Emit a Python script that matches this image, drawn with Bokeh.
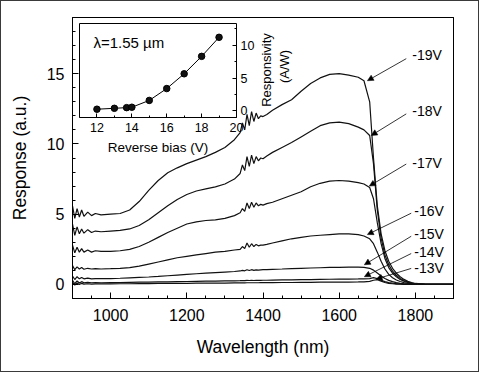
from bokeh.plotting import figure
from bokeh.models import Range1d, LinearAxis, SingleIntervalTicker, FixedTicker, Label, Arrow, NormalHead
from bokeh.embed import file_html
from bokeh.resources import INLINE

FONT = "Liberation Sans"

# ---------------- data ----------------
wavelength = [900, 906, 912, 918, 924, 930, 940, 950, 960, 975,
              1000, 1025, 1050, 1075, 1100, 1125, 1150, 1175, 1200, 1225, 1250, 1275, 1300, 1325,
              1340, 1346, 1352, 1358, 1364, 1370, 1376, 1382, 1388, 1394, 1400,
              1410, 1425, 1450, 1475, 1500, 1525, 1550, 1575, 1600, 1625, 1650,
              1665, 1680, 1690, 1700, 1710, 1720, 1730, 1740, 1750, 1760, 1770, 1780, 1790, 1800,
              1825, 1850, 1900]

resp_19v = [5.6, 4.7, 5.4, 4.8, 5.3, 4.85, 5.15, 4.9, 5.05, 4.95,
            5.0, 5.05, 5.3, 5.9, 6.7, 7.4, 7.95, 8.3, 8.6, 8.85, 9.1, 9.4, 9.75, 10.3,
            10.8, 11.5, 11.0, 12.1, 11.3, 12.3, 11.6, 12.2, 11.8, 12.0, 11.95,
            12.1, 12.4, 12.8, 13.15, 13.75, 14.3, 14.7, 14.95, 15.0, 14.9, 14.75,
            14.5, 13.0, 9.0, 5.6, 3.6, 2.4, 1.65, 1.15, 0.8, 0.55, 0.36, 0.22, 0.13, 0.07,
            0.02, 0.0, 0.0]
resp_18v = [4.3, 3.5, 4.1, 3.6, 3.95, 3.65, 3.9, 3.7, 3.8, 3.75,
            3.8, 3.85, 3.95, 4.2, 4.6, 5.1, 5.6, 6.05, 6.4, 6.65, 6.8, 6.95, 7.15, 7.5,
            7.9, 8.5, 8.1, 9.1, 8.4, 9.2, 8.6, 9.1, 8.8, 9.0, 8.95,
            9.15, 9.4, 9.75, 10.1, 10.5, 10.9, 11.3, 11.5, 11.55, 11.45, 11.2,
            11.0, 10.6, 8.6, 5.3, 3.3, 2.1, 1.4, 0.95, 0.65, 0.43, 0.28, 0.17, 0.1, 0.05,
            0.015, 0.0, 0.0]
resp_17v = [2.8, 2.25, 2.65, 2.3, 2.55, 2.3, 2.45, 2.3, 2.4, 2.35,
            2.35, 2.4, 2.5, 2.7, 3.0, 3.35, 3.7, 4.0, 4.3, 4.45, 4.55, 4.6, 4.7, 4.9,
            5.1, 5.4, 5.2, 5.8, 5.4, 5.85, 5.5, 5.8, 5.6, 5.7, 5.65,
            5.75, 5.85, 6.1, 6.35, 6.6, 6.95, 7.2, 7.35, 7.4, 7.35, 7.25,
            7.15, 6.9, 6.1, 4.4, 2.9, 1.85, 1.2, 0.8, 0.55, 0.36, 0.23, 0.14, 0.08, 0.04,
            0.01, 0.0, 0.0]
resp_16v = [1.35, 1.05, 1.25, 1.1, 1.2, 1.08, 1.15, 1.1, 1.12, 1.1,
            1.12, 1.15, 1.2, 1.3, 1.45, 1.6, 1.75, 1.9, 2.0, 2.1, 2.2, 2.3, 2.35, 2.45,
            2.5, 2.7, 2.55, 2.95, 2.65, 2.9, 2.7, 2.85, 2.75, 2.8, 2.8,
            2.85, 2.95, 3.1, 3.25, 3.35, 3.45, 3.5, 3.55, 3.6, 3.6, 3.55,
            3.45, 3.25, 2.9, 2.3, 1.65, 1.1, 0.72, 0.48, 0.32, 0.21, 0.13, 0.08, 0.05, 0.03,
            0.01, 0.0, 0.0]
resp_15v = [0.6, 0.35, 0.55, 0.4, 0.5, 0.4, 0.45, 0.4, 0.42, 0.41,
            0.42, 0.44, 0.47, 0.5, 0.53, 0.57, 0.62, 0.67, 0.72, 0.76, 0.8, 0.84, 0.88, 0.92,
            0.96, 1.0, 0.97, 1.05, 0.99, 1.05, 1.0, 1.04, 1.02, 1.04, 1.05,
            1.06, 1.08, 1.1, 1.13, 1.15, 1.17, 1.19, 1.21, 1.22, 1.23, 1.23,
            1.22, 1.15, 1.02, 0.82, 0.6, 0.42, 0.29, 0.2, 0.13, 0.08, 0.05, 0.03, 0.02, 0.01,
            0.0, 0.0, 0.0]
resp_14v = [0.3, 0.05, 0.25, 0.1, 0.2, 0.12, 0.15, 0.12, 0.13, 0.12,
            0.13, 0.14, 0.15, 0.16, 0.17, 0.18, 0.19, 0.2, 0.21, 0.22, 0.23, 0.24, 0.25, 0.26,
            0.27, 0.28, 0.27, 0.29, 0.28, 0.29, 0.28, 0.29, 0.29, 0.29, 0.3,
            0.3, 0.31, 0.32, 0.33, 0.34, 0.35, 0.36, 0.37, 0.38, 0.38, 0.39,
            0.4, 0.42, 0.48, 0.42, 0.3, 0.2, 0.13, 0.09, 0.06, 0.04, 0.03, 0.02, 0.01, 0.01,
            0.0, 0.0, 0.0]
resp_13v = [0.15, -0.05, 0.1, 0.0, 0.08, 0.02, 0.05, 0.03, 0.04, 0.04,
            0.04, 0.05, 0.05, 0.06, 0.06, 0.07, 0.07, 0.08, 0.08, 0.09, 0.09, 0.1, 0.1, 0.11,
            0.11, 0.12, 0.11, 0.12, 0.12, 0.12, 0.12, 0.12, 0.12, 0.13, 0.13,
            0.13, 0.13, 0.14, 0.14, 0.15, 0.15, 0.16, 0.16, 0.17, 0.17, 0.18,
            0.19, 0.22, 0.3, 0.34, 0.24, 0.14, 0.08, 0.05, 0.03, 0.02, 0.01, 0.01, 0.0, 0.0,
            0.0, 0.0, 0.0]

series = [resp_13v, resp_14v, resp_15v, resp_16v, resp_17v, resp_18v, resp_19v]
series_labels = ["-13V", "-14V", "-15V", "-16V", "-17V", "-18V", "-19V"]

# inset: responsivity at 1.55 um vs reverse bias
bias_v = [12, 13, 13.7, 14, 15, 16, 17, 18, 19]
responsivity = [0.26, 0.4, 0.5, 0.56, 1.6, 3.4, 5.65, 8.3, 11.2]

# annotation placement (data units of the main plot)
label_x = [1797, 1797, 1797, 1797, 1792, 1792, 1792]
label_y = [1.14, 2.29, 3.57, 5.2, 8.64, 12.36, 16.3]
arrow_tail = [(1789, 1.14), (1789, 2.2), (1789, 3.43), (1789, 5.07),
              (1776, 8.57), (1776, 12.14), (1776, 16.07)]
arrow_tip = [(1697, 0.38), (1666, 0.55), (1666, 1.4), (1674, 3.55),
             (1679, 7.0), (1684, 10.6), (1674, 14.5)]

# ---------------- geometry ----------------
FRAME_W, FRAME_H = 381, 281
X_RANGE = (900, 1900)
Y_RANGE = (-1, 19)
INSET_X = (11, 20)
INSET_Y = (-1, 13.3)
INSET_LEFT, INSET_RIGHT, INSET_TOP, INSET_BOTTOM = 7, 164, 6, 100  # px inside frame

sx = (INSET_RIGHT - INSET_LEFT) / (INSET_X[1] - INSET_X[0])
sy = (INSET_BOTTOM - INSET_TOP) / (INSET_Y[1] - INSET_Y[0])
ix_range = Range1d(INSET_X[0] - INSET_LEFT / sx, INSET_X[1] + (FRAME_W - INSET_RIGHT) / sx)
iy_range = Range1d(INSET_Y[0] - (FRAME_H - INSET_BOTTOM) / sy, INSET_Y[1] + INSET_TOP / sy)

p = figure(frame_width=FRAME_W, frame_height=FRAME_H,
           x_range=Range1d(*X_RANGE), y_range=Range1d(*Y_RANGE),
           output_backend="svg", toolbar_location=None,
           min_border_left=71, min_border_right=25, min_border_top=16, min_border_bottom=73)
p.styles = {"border": "1px solid #3a3a3a"}
p.extra_x_ranges = {"ix": ix_range}
p.extra_y_ranges = {"iy": iy_range}

p.xgrid.visible = False
p.ygrid.visible = False
p.outline_line_color = "black"
p.outline_line_alpha = 1
p.outline_line_width = 1
p.background_fill_color = "white"
p.border_fill_color = "white"

xa = p.xaxis[0]
ya = p.yaxis[0]
xa.ticker = SingleIntervalTicker(interval=200, num_minor_ticks=4)
ya.ticker = SingleIntervalTicker(interval=5, num_minor_ticks=5)
xa.axis_label = "Wavelength (nm)"
ya.axis_label = "Response (a.u.)"
for ax in (xa, ya):
    ax.major_tick_in = 6
    ax.major_tick_out = 0
    ax.minor_tick_in = 3
    ax.minor_tick_out = 0
    ax.axis_line_color = "black"
    ax.major_tick_line_color = "black"
    ax.minor_tick_line_color = "black"
    ax.major_tick_line_width = 1
    ax.minor_tick_line_width = 1
    ax.major_label_text_font = FONT
    ax.major_label_text_font_size = "16px"
    ax.major_label_text_color = "black"
    ax.axis_label_text_font = FONT
    ax.axis_label_text_font_size = "17.5px"
    ax.axis_label_text_font_style = "normal"
    ax.axis_label_text_color = "black"
xa.major_label_standoff = 10
xa.axis_label_standoff = 13
ya.major_label_standoff = 8
ya.axis_label_standoff = 14

# plain frame edges on top and right (no ticks, no labels)
for side in ("above", "right"):
    edge = LinearAxis(ticker=FixedTicker(ticks=[]), axis_line_color="black",
                      major_tick_line_color=None, minor_tick_line_color=None,
                      major_label_standoff=0)
    p.add_layout(edge, side)

for ys in series:
    p.line(wavelength, ys, line_color="#111111", line_width=1.2)

for t, lx, ly, (x0, y0), (x1, y1) in zip(series_labels, label_x, label_y, arrow_tail, arrow_tip):
    p.add_layout(Arrow(end=NormalHead(size=6, line_color="black", fill_color="black", line_width=0.5),
                       x_start=x0, y_start=y0, x_end=x1, y_end=y1,
                       line_color="black", line_width=0.8))
    p.add_layout(Label(x=lx, y=ly, text=t, text_align="left", text_baseline="middle",
                       text_font=FONT, text_font_size="14px", text_color="black"))

# ---------------- inset ----------------
p.quad(left=INSET_X[0], right=INSET_X[1], bottom=INSET_Y[0], top=INSET_Y[1],
       x_range_name="ix", y_range_name="iy",
       fill_color="white", line_color="black", line_width=1)
p.line(bias_v, responsivity, x_range_name="ix", y_range_name="iy",
       line_color="black", line_width=1)
p.scatter(bias_v, responsivity, x_range_name="ix", y_range_name="iy",
          size=6.5, fill_color="#111111", line_color="black")

iax = LinearAxis(x_range_name="ix", y_range_name="iy", fixed_location=INSET_Y[0],
                 bounds=INSET_X, ticker=SingleIntervalTicker(interval=2, num_minor_ticks=2),
                 axis_label="Reverse bias (V)")
iay = LinearAxis(x_range_name="ix", y_range_name="iy", fixed_location=INSET_X[1],
                 bounds=INSET_Y, ticker=SingleIntervalTicker(interval=5, num_minor_ticks=2))
for ax in (iax, iay):
    ax.axis_line_color = None
    ax.major_tick_in = 4
    ax.major_tick_out = 0
    ax.minor_tick_in = 2
    ax.minor_tick_out = 0
    ax.major_tick_line_color = "black"
    ax.minor_tick_line_color = "black"
    ax.major_label_text_font = FONT
    ax.major_label_text_font_size = "12.5px"
    ax.major_label_text_color = "black"
    ax.major_label_standoff = 5
    ax.axis_label_text_font = FONT
    ax.axis_label_text_font_size = "13.5px"
    ax.axis_label_text_font_style = "normal"
    ax.axis_label_text_color = "black"
    ax.axis_label_standoff = 5
iay.major_label_standoff = 4
p.add_layout(iax, "below")
p.add_layout(iay, "right")

p.add_layout(Label(x=21.72, y=6.23, x_range_name="ix", y_range_name="iy", text="Responsivity",
                   angle=90, angle_units="deg", text_align="center", text_baseline="middle",
                   text_font=FONT, text_font_size="13px", text_color="black"))
p.add_layout(Label(x=22.75, y=6.76, x_range_name="ix", y_range_name="iy", text="(A/W)",
                   angle=90, angle_units="deg", text_align="center", text_baseline="middle",
                   text_font=FONT, text_font_size="13px", text_color="black"))
p.add_layout(Label(x=11.8, y=10.41, x_range_name="ix", y_range_name="iy", text="λ=1.55 µm",
                   text_align="left", text_baseline="middle",
                   text_font=FONT, text_font_size="15px", text_color="black"))

open("out.html", "w").write(file_html(p, INLINE))
